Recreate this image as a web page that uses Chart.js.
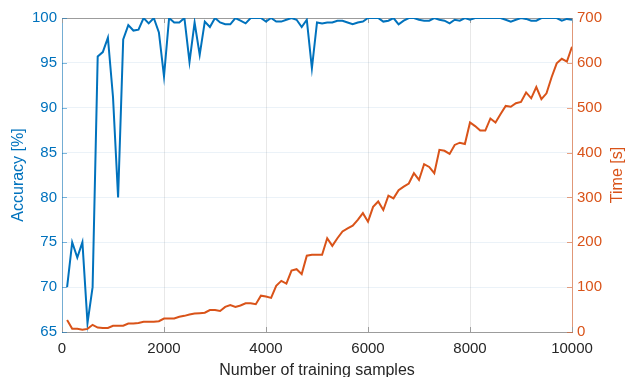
<!DOCTYPE html>
<html>
<head>
<meta charset="utf-8">
<script src="https://cdn.jsdelivr.net/npm/chart.js@4.4.1/dist/chart.umd.min.js"></script>
<style>
  html, body { margin: 0; padding: 0; background: #fff; overflow: hidden; }
  #wrap { width: 627px; height: 377px; position: relative; }
</style>
</head>
<body>
<div id="wrap"><canvas id="chart"></canvas></div>
<script>
// ── DATA ─────────────────────────────────────────────────
const SAMPLES = [
   100,  200,  300,  400,  500,  600,  700,  800,  900, 1000,
  1100, 1200, 1300, 1400, 1500, 1600, 1700, 1800, 1900, 2000,
  2100, 2200, 2300, 2400, 2500, 2600, 2700, 2800, 2900, 3000,
  3100, 3200, 3300, 3400, 3500, 3600, 3700, 3800, 3900, 4000,
  4100, 4200, 4300, 4400, 4500, 4600, 4700, 4800, 4900, 5000,
  5100, 5200, 5300, 5400, 5500, 5600, 5700, 5800, 5900, 6000,
  6100, 6200, 6300, 6400, 6500, 6600, 6700, 6800, 6900, 7000,
  7100, 7200, 7300, 7400, 7500, 7600, 7700, 7800, 7900, 8000,
  8100, 8200, 8300, 8400, 8500, 8600, 8700, 8800, 8900, 9000,
  9100, 9200, 9300, 9400, 9500, 9600, 9700, 9800, 9900, 10000,
];

// accuracy [%], left axis
const ACCURACY = [
  70.0, 75.0, 73.3, 75.0, 66.0, 70.0, 95.7, 96.2, 97.8, 91.2,
  80.0, 97.6, 99.2, 98.6, 98.7, 100,  99.4, 100,  98.4, 93.5,
  100,  99.5, 99.5, 100,  95.1, 99.5, 95.9, 99.6, 99.0, 100,
  99.5, 99.3, 99.3, 100,  99.7, 99.4, 100,  100,  100,  99.6,
  100,  99.6, 99.6, 99.8, 100,  99.8, 99.0, 99.8, 94.4, 99.5,
  99.4, 99.5, 99.5, 99.7, 99.7, 99.5, 99.3, 99.5, 99.6, 100,
  100,  100,  99.6, 99.7, 100,  99.3, 99.7, 100,  100,  99.8,
  99.7, 99.7, 100,  99.8, 99.7, 99.4, 99.8, 99.7, 100,  99.8,
  100,  100,  100,  100,  100,  100,  99.8, 99.6, 99.8, 100,
  99.9, 99.7, 99.7, 100,  100,  100,  100,  99.7, 99.9, 99.8,
];

// training time [s], right axis
const TIME_S = [
   27,   7,   7,   5,   7,  16,  10,   9,   9,  14,
   14,  14,  19,  19,  20,  23,  23,  23,  24,  30,
   30,  30,  34,  36,  39,  41,  42,  43,  49,  49,
   47,  56,  60,  56,  59,  64,  64,  62,  81,  79,
   76, 103, 114, 108, 137, 140, 129, 170, 172, 172,
  172, 209, 192, 209, 224, 231, 237, 250, 265, 246,
  279, 291, 272, 304, 298, 316, 324, 331, 354, 339,
  374, 368, 354, 406, 404, 397, 417, 422, 419, 467,
  459, 449, 449, 476, 467, 486, 504, 502, 510, 513,
  534, 521, 546, 519, 532, 568, 599, 609, 603, 636,
];

const X_TICKS    = [0, 2000, 4000, 6000, 8000, 10000];
const ACC_TICKS  = [65, 70, 75, 80, 85, 90, 95, 100];
const TIME_TICKS = [0, 100, 200, 300, 400, 500, 600, 700];

// ── STYLE ────────────────────────────────────────────────
const BLUE   = "#0072BD";
const ORANGE = "#D95319";
const FONT   = "'Liberation Sans', Arial, Helvetica, sans-serif";

Chart.defaults.font.family = FONT;

// frame lines, inward tick marks and the right-hand label
const frame = {
  id: "frame",
  beforeDatasetsDraw(chart) {
    const { ctx, chartArea: a, scales } = chart;
    const L = 5;
    ctx.save();
    ctx.lineWidth = 1;

    ctx.strokeStyle = "#9c9c9c";
    ctx.beginPath();
    ctx.moveTo(a.left, a.top + 0.5);
    ctx.lineTo(a.right, a.top + 0.5);
    scales.x.ticks.forEach(t => {
      const px = Math.round(scales.x.getPixelForValue(t.value)) + 0.5;
      ctx.moveTo(px, a.bottom);
      ctx.lineTo(px, a.bottom - L);
      ctx.moveTo(px, a.top);
      ctx.lineTo(px, a.top + L);
    });
    ctx.stroke();

    ctx.strokeStyle = "rgba(0,114,189,0.5)";
    ctx.beginPath();
    scales.yAcc.ticks.forEach(t => {
      const py = Math.round(scales.yAcc.getPixelForValue(t.value)) + 0.5;
      ctx.moveTo(a.left, py);
      ctx.lineTo(a.left + L, py);
    });
    ctx.stroke();

    ctx.strokeStyle = "rgba(217,83,25,0.55)";
    ctx.beginPath();
    scales.yTime.ticks.forEach(t => {
      const py = Math.round(scales.yTime.getPixelForValue(t.value)) + 0.5;
      ctx.moveTo(a.right, py);
      ctx.lineTo(a.right - L, py);
    });
    ctx.stroke();
    ctx.restore();
  },
  afterDraw(chart) {
    const { ctx, chartArea: a } = chart;
    ctx.save();
    ctx.translate(618, (a.top + a.bottom) / 2);
    ctx.rotate(-Math.PI / 2);
    ctx.font = "16px " + FONT;
    ctx.fillStyle = ORANGE;
    ctx.textAlign = "center";
    ctx.textBaseline = "middle";
    ctx.fillText("Time [s]", 0, 0);
    ctx.restore();
  },
};

const setTicks = list => scale => { scale.ticks = list.map(v => ({ value: v })); };
const plain    = v => String(v);

// ── CHART ────────────────────────────────────────────────
new Chart(document.getElementById("chart"), {
  type: "line",
  data: {
    datasets: [
      {
        label:       "Time",
        data:        SAMPLES.map((s, i) => ({ x: s, y: TIME_S[i] })),
        yAxisID:     "yTime",
        borderColor: ORANGE,
        borderWidth: 2,
        pointRadius: 0,
        tension:     0,
      },
      {
        label:       "Accuracy",
        data:        SAMPLES.map((s, i) => ({ x: s, y: ACCURACY[i] })),
        yAxisID:     "yAcc",
        borderColor: BLUE,
        borderWidth: 2,
        pointRadius: 0,
        tension:     0,
      },
    ],
  },
  options: {
    responsive:          true,
    maintainAspectRatio: false,
    animation:           false,
    layout: { padding: { top: 18, left: 0, right: 0, bottom: 0 } },
    plugins: {
      legend:  { display: false },
      tooltip: { enabled: false },
    },
    scales: {
      x: {
        type: "linear",
        min:  0,
        max:  10000,
        afterBuildTicks: setTicks(X_TICKS),
        afterFit: s => { s.height = 45; },
        grid:   { color: "rgba(0,0,0,0.09)", drawTicks: false },
        border: { color: "#9c9c9c" },
        ticks:  { padding: 8, color: "#262626", font: { size: 15 }, maxRotation: 0, callback: plain },
        title: {
          display: true,
          text:    "Number of training samples",
          color:   "#262626",
          font:    { size: 16 },
          padding: { top: 0, bottom: -3 },
        },
      },
      yAcc: {
        position: "left",
        min: 65,
        max: 100,
        afterBuildTicks: setTicks(ACC_TICKS),
        afterFit: s => { s.width = 62; },
        grid:   { color: "rgba(0,90,160,0.08)", drawTicks: false },
        border: { color: "rgba(0,114,189,0.5)" },
        ticks:  { padding: 5, color: BLUE, font: { size: 15 }, callback: plain },
        title: {
          display: true,
          text:    "Accuracy [%]",
          color:   BLUE,
          font:    { size: 16 },
          padding: { top: 9, bottom: 0 },
        },
      },
      yTime: {
        position: "right",
        min: 0,
        max: 700,
        afterBuildTicks: setTicks(TIME_TICKS),
        afterFit: s => { s.width = 55; },
        grid:   { display: false, drawTicks: false },
        border: { color: "rgba(217,83,25,0.55)" },
        ticks:  { padding: 5, color: ORANGE, font: { size: 15 }, callback: plain },
      },
    },
  },
  plugins: [frame],
});
</script>
</body>
</html>
